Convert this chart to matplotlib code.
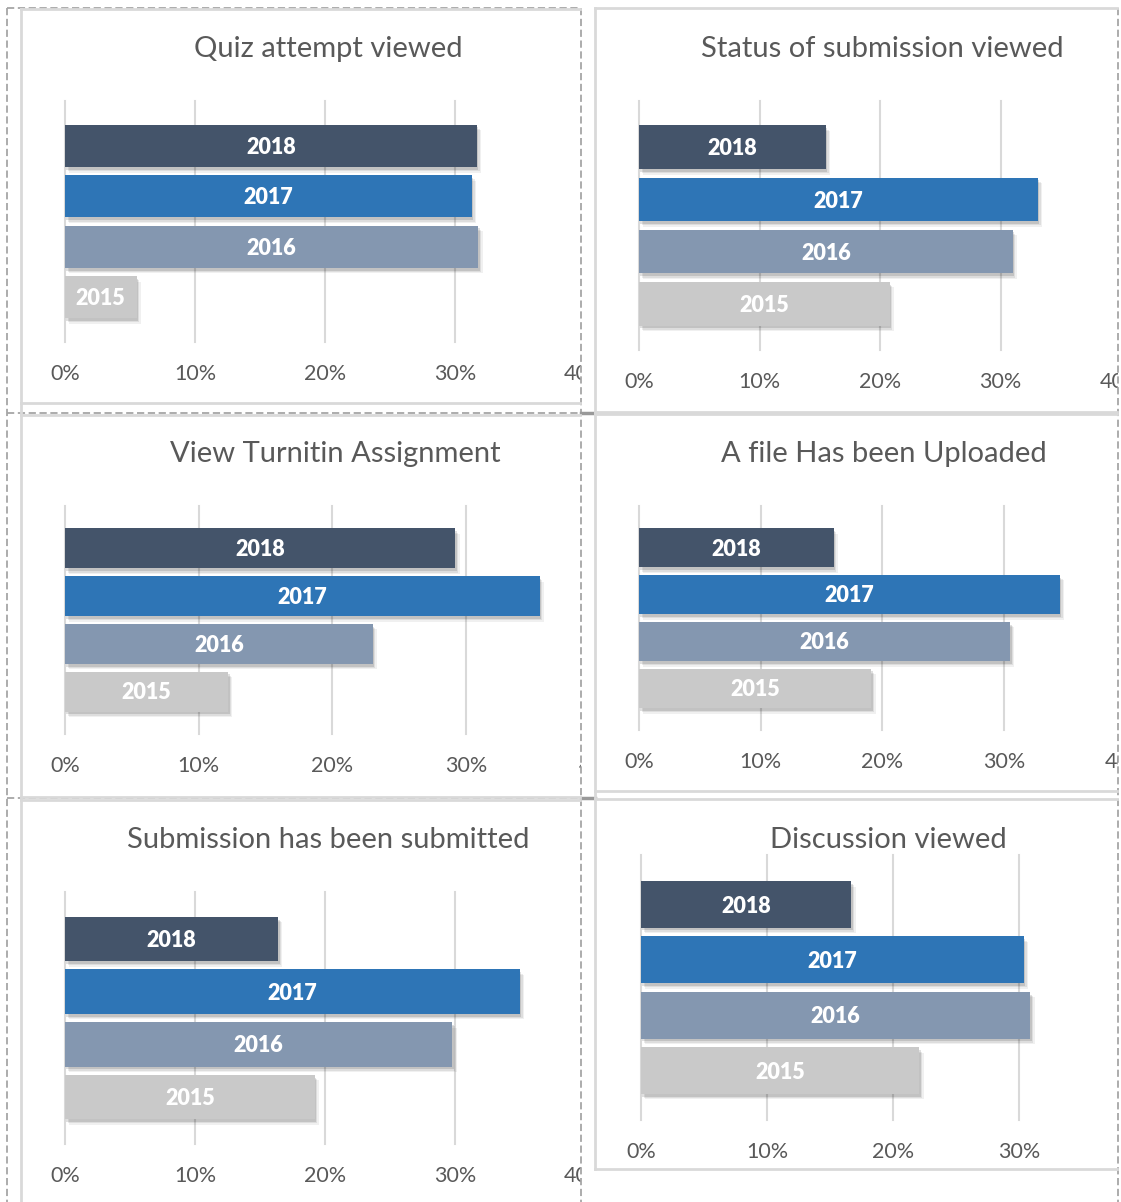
import numpy as np
import matplotlib
matplotlib.use("Agg")
import matplotlib.pyplot as plt
import matplotlib.patheffects as pe
from matplotlib.lines import Line2D
from matplotlib.transforms import Bbox, TransformedBbox


# =========================
# Data: share of each event per year (%)
# =========================

years = ["2015", "2016", "2017", "2018"]
year_colors = ["#C9C9C9", "#8497B0", "#2E75B6", "#44546A"]

titles = [
    "Quiz attempt viewed",
    "Status of submission viewed",
    "View Turnitin Assignment",
    "A file Has been Uploaded",
    "Submission has been submitted",
    "Discussion viewed",
]

quiz_attempt = [5.5, 31.8, 31.3, 31.7]
submission_status = [20.8, 31.0, 33.1, 15.5]
turnitin_view = [12.2, 23.0, 35.5, 29.2]
file_uploaded = [19.1, 30.5, 34.6, 16.0]
submission_submitted = [19.2, 29.8, 35.0, 16.4]
discussion_viewed = [22.1, 30.9, 30.4, 16.7]

series = [quiz_attempt, submission_status, turnitin_view,
          file_uploaded, submission_submitted, discussion_viewed]

xticks = [0, 10, 20, 30, 40]
xtick_labels = ["0%", "10%", "20%", "30%", "40%"]


# =========================
# Layout (pixels): plot area left, px per 10%, top, bottom, title centre, clip right
# =========================

W, H = 1121, 1202
layout = [
    (65, 130.0, 101, 342, (328, 49), 581),
    (639, 120.5, 101, 350, (882, 49), 1118),
    (65, 133.7, 506, 734, (335, 454), 581),
    (639, 121.7, 506, 730, (884, 454), 1118),
    (65, 130.0, 892, 1144, (328, 840), 581),
    (641, 126.0, 855, 1120, (888, 840), 1118),
]

FONT = ["Lato", "DejaVu Sans"]
TEXT_GREY = "#595959"


def fx(x):
    return x / W


def fy(y):
    return 1 - y / H


fig = plt.figure(figsize=(W / 100, H / 100), dpi=100)
fig.patch.set_facecolor("white")


# =========================
# Panel frames
# =========================

def fig_line(x0, y0, x1, y1, color, lw=1.3, ls="-"):
    fig.add_artist(Line2D([fx(x0), fx(x1)], [fy(y0), fy(y1)],
                          transform=fig.transFigure, color=color,
                          linewidth=lw, linestyle=ls))


dash = (0, (4, 2))
light = "#D9D9D9"
dark = "#A6A6A6"

# outer dashed frames
fig_line(7, 8, 7, 1202, dark, ls=dash)
fig_line(7, 8, 581, 8, dark, ls=dash)
fig_line(581, 8, 581, 1202, dark, ls=dash)
fig_line(1118, 8, 1118, 1202, dark, ls=dash)
fig_line(7, 413, 581, 413, dark, ls=dash)
fig_line(7, 798, 581, 798, dark, ls=dash)
fig_line(581, 413, 595, 413, "#999999", lw=2.5)
fig_line(581, 798, 595, 798, "#999999", lw=2.5)

# left column solid frames
fig_line(21, 9, 21, 1202, light, lw=2)
fig_line(21, 9, 580, 9, light, lw=2)
fig_line(21, 403, 580, 403, light, lw=2)
fig_line(21, 415, 580, 415, light, lw=2)
fig_line(21, 797, 580, 797, light, lw=2)
fig_line(21, 800, 580, 800, light, lw=2)

# right column solid frames
fig_line(595, 8, 595, 1169, light, lw=2)
fig_line(595, 8, 1117, 8, light, lw=2)
fig_line(595, 412, 1117, 412, light, lw=2)
fig_line(595, 414, 1117, 414, light, lw=2)
fig_line(595, 791, 1117, 791, light, lw=2)
fig_line(595, 799, 1117, 799, light, lw=2)
fig_line(595, 1169, 1117, 1169, light, lw=2)


# =========================
# Bar panels
# =========================

# soft drop shadow built from a few stacked offsets
shadow = [pe.SimplePatchShadow(offset=(3, -4), shadow_rgbFace="black", alpha=0.06),
          pe.SimplePatchShadow(offset=(2, -3), shadow_rgbFace="black", alpha=0.08),
          pe.SimplePatchShadow(offset=(1, -2), shadow_rgbFace="black", alpha=0.12),
          pe.Normal()]

for title, values, (x0, d10, top, bot, tpos, clip_x) in zip(titles, series, layout):
    ax = fig.add_axes([fx(x0), fy(bot), fx(4 * d10), (bot - top) / H])
    pos = np.arange(len(years))
    bars = ax.barh(pos, values, height=0.84, color=year_colors, zorder=3)
    for b in bars:
        b.set_path_effects(shadow)

    for p, v, yr in zip(pos, values, years):
        ax.text(v / 2, p - 0.03, yr, ha="center", va="center", color="white",
                fontsize=15.5, fontweight="heavy", family=FONT, zorder=5)

    ax.set_xlim(0, 40)
    ax.set_ylim(-0.89, 3.89)
    ax.set_xticks(xticks)
    ax.set_xticklabels(xtick_labels)
    ax.set_yticks([])
    ax.grid(axis="x", color=light, linewidth=1.5, zorder=0)
    ax.set_axisbelow(True)
    ax.tick_params(axis="x", length=0, pad=16, labelsize=15.5, labelcolor=TEXT_GREY)
    for spine in ax.spines.values():
        spine.set_visible(False)
    ax.patch.set_alpha(0)

    # anything past the panel's right frame is hidden
    clip = TransformedBbox(Bbox.from_extents(0, 0, fx(clip_x), 1), fig.transFigure)
    for lbl in ax.get_xticklabels():
        lbl.set_family(FONT)
        lbl.set_clip_box(clip)
        lbl.set_clip_on(True)
    for gl in ax.get_xgridlines():
        gl.set_clip_box(clip)

    fig.text(fx(tpos[0]), fy(tpos[1]), title, ha="center", va="center",
             fontsize=21, color=TEXT_GREY, family=FONT)

fig.savefig("out.png", dpi=100, facecolor="white")
